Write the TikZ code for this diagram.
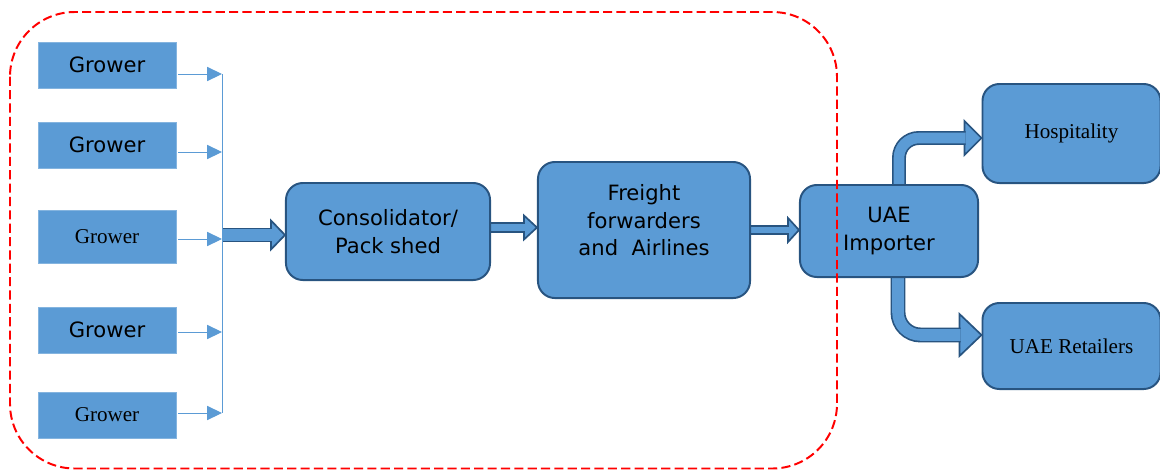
\documentclass[tikz,border=0pt]{standalone}
\usepackage{fontspec}
\setmainfont{Liberation Serif}
\setsansfont{DejaVu Sans}
\usetikzlibrary{arrows.meta, positioning, calc}
\definecolor{boxblue}{RGB}{91,155,213}
\definecolor{edgeblue}{RGB}{40,84,128}
\pgfdeclarelayer{back}
\pgfsetlayers{back,main}
\newcommand{\sz}{\fontsize{15}{19.5}\selectfont}
% head pointing right: tip #1, length #2, half height #3
\newcommand{\headto}[3]{%
  \filldraw[head] (#1) -- ++(-#2,-#3) -- ++(0,2*#3) -- cycle;}
\tikzset{
    grower/.style={
        rectangle,
        fill=boxblue,
        draw=boxblue!75!white,
        line width=0.5pt,
        minimum width=3.45cm,
        inner sep=0pt,
    },
    stage/.style={
        rectangle,
        rounded corners=12pt,
        fill=boxblue,
        draw=edgeblue,
        line width=1.4pt,
        align=center,
        inner sep=0pt,
        font=\sffamily\sz,
    },
    feed/.style={
        draw=boxblue,
        line width=0.7pt,
        -{Triangle[length=10.5pt,width=10pt]},
    },
    shaft/.style={
        draw=edgeblue,
        line width=1.2pt,
        double=boxblue,
        double distance=#1,
    },
    head/.style={
        fill=boxblue,
        draw=edgeblue,
        line width=1.2pt,
        line join=miter,
    },
    zone/.style={
        draw=red,
        line width=1.4pt,
        dash pattern=on 6.5pt off 3pt,
        rounded corners=46pt,
    },
}
\begin{document}
\begin{tikzpicture}[x=0.025cm, y=-0.025cm]
    \useasboundingbox (0,0) rectangle (1160,470);

    % growers
    \foreach \n/\y/\h/\d/\f in {1/65/1.15/9/\sffamily, 2/145/1.15/7/\sffamily,
        3/236.5/1.325/2.5/\rmfamily, 4/330/1.15/2/\sffamily, 5/415/1.15/-2/\rmfamily}{
      \node [grower, minimum height=\h cm, font=\f\sz] (g\n) at (107,\y) {Grower};
      \coordinate (f\n) at ($(g\n.east)+(2,\d)$);
    }
    \coordinate (bus) at (222,0);
    \coordinate (bus-mid) at (222,235);

    \node [stage, minimum width=5.1cm, minimum height=2.425cm] (cons) at (388,231.5) {Consolidator/\\Pack shed};
    \node [stage, minimum width=5.3cm, minimum height=3.4cm, text depth=14pt] (fr) at (644,230) {Freight\\forwarders\\and~ Airlines};
    \node [stage, minimum width=4.45cm, minimum height=2.3cm] (imp) at (889,231) {UAE\\Importer};
    \node [stage, minimum width=4.45cm, minimum height=2.475cm, font=\rmfamily\sz] (hosp) at (1071.5,133.5) {Hospitality};
    \node [stage, minimum width=4.45cm, minimum height=2.15cm, font=\rmfamily\sz] (ret) at (1071.5,346) {UAE Retailers};

    \foreach \n in {1,...,5}
      \draw[feed] (f\n) -- (f\n -| bus);
    \draw[boxblue, line width=0.7pt] (f1 -| bus) -- (f5 -| bus);

    \begin{pgfonlayer}{back}
      \headto{cons.west |- bus-mid}{14}{14.5}
      \draw[shaft=8.2pt] (bus-mid) -- ($(cons.west |- bus-mid)+(-13,0)$);

      \coordinate (c-out) at ($(cons.east)+(-10,-4)$);
      \headto{fr.west |- c-out}{13}{12}
      \draw[shaft=5.4pt] (c-out) -- ($(fr.west |- c-out)+(-12,0)$);

      \coordinate (f-out) at ($(fr.east)+(-10,0)$);
      \headto{imp.west |- f-out}{11}{12}
      \draw[shaft=4.7pt] (f-out) -- ($(imp.west |- f-out)+(-10,0)$);

      \headto{$(hosp.west)+(0,4.5)$}{17}{17}
      \draw[shaft=7.5pt, rounded corners=14pt] ($(imp.north)+(10,10)$) |- ($(hosp.west)+(-16,4.5)$);

      \headto{$(ret.west)+(0,-11)$}{22}{21}
      \draw[shaft=8.2pt, rounded corners=16pt] ($(imp.south)+(9,-10)$) |- ($(ret.west)+(-21,-11)$);
    \end{pgfonlayer}

    \draw[zone] (10,12) rectangle (837,468.5);
\end{tikzpicture}
\end{document}
